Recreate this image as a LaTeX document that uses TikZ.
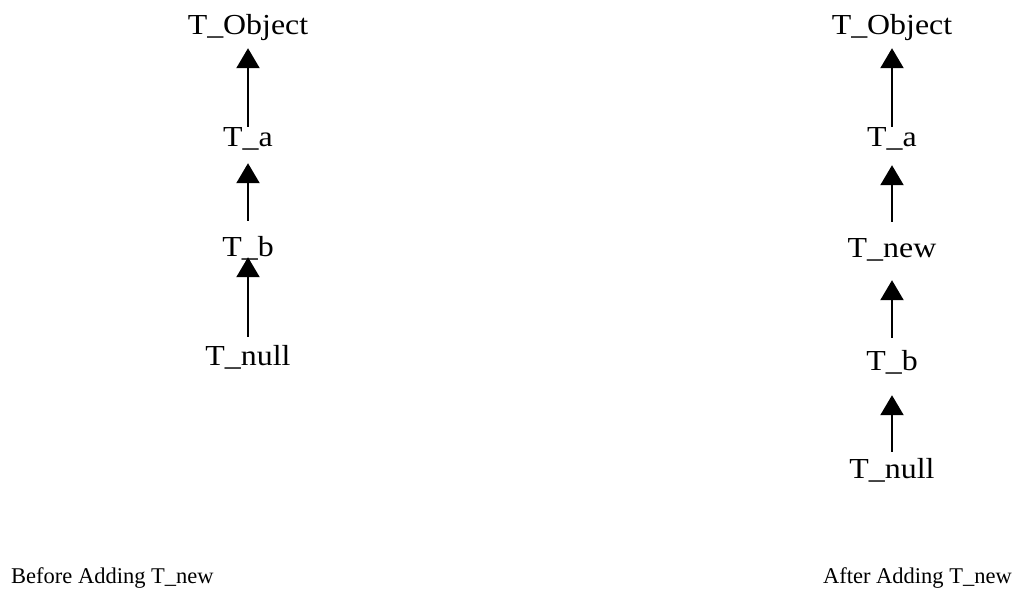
\documentclass[tikz,border=0pt]{standalone}
\usepackage{fontspec}
\setmainfont{Liberation Serif}
\newfontfamily\widefont[FakeStretch=1.1]{Liberation Serif}
\usetikzlibrary{arrows.meta}
\begin{document}
\begin{tikzpicture}[x=1pt,y=-1pt,
  lbl/.style={inner sep=0pt,anchor=base,text height=20pt,text depth=0pt,font=\widefont\fontsize{29}{33}\selectfont},
  captxt/.style={inner sep=0pt,font=\fontsize{22.5}{27}\selectfont},
  arr/.style={line width=2.2pt,-{Triangle[width=23pt,length=20pt]}}]
\useasboundingbox (0,0) rectangle (1023,598);
% left
\node[lbl] (lobj) at (248,34) {T\_Object};
\node[lbl] (la) at (248,146) {T\_a};
\node[lbl] (lb) at (248,256) {T\_b};
\node[lbl] (lnull) at (248,365) {T\_null};
\draw[arr,shorten <=-1pt,shorten >=14pt] (la.north) -- (lobj.south);
\draw[arr,shorten <=15pt,shorten >=17pt] (lb.north) -- (la.south);
\draw[arr,shorten <=8pt,shorten >=1pt] (lnull.north) -- (lb.south);
% right
\node[lbl] (robj) at (892,34) {T\_Object};
\node[lbl] (ra) at (892,146) {T\_a};
\node[lbl] (rnew) at (892,257) {T\_new};
\node[lbl] (rb) at (892,370) {T\_b};
\node[lbl] (rnull) at (892,478) {T\_null};
\draw[arr,shorten <=-1pt,shorten >=14pt] (ra.north) -- (robj.south);
\draw[arr,shorten <=15pt,shorten >=19pt] (rnew.north) -- (ra.south);
\draw[arr,shorten <=12pt,shorten >=23pt] (rb.north) -- (rnew.south);
\draw[arr,shorten <=6pt,shorten >=25pt] (rnull.north) -- (rb.south);
% captions
\node[captxt,anchor=base west] (cl) at (11,583) {Before Adding T\_new};
\node[captxt,anchor=base east] (cr) at (1012,583) {After Adding T\_new};
\end{tikzpicture}
\end{document}
